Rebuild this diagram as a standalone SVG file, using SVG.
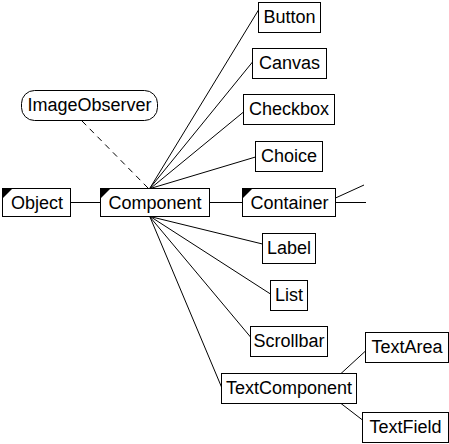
<svg xmlns="http://www.w3.org/2000/svg" width="449" height="444" viewBox="0 0 449 444">
<style>
rect{fill:#fff;stroke:#000;stroke-width:1}
text{font-family:"Liberation Sans",Arial,sans-serif;font-size:18px;fill:#000;text-anchor:middle}
.c line{stroke:#000;stroke-width:1}
.tri{fill:#000;stroke:none}
</style>
<rect x="0" y="0" width="449" height="444" style="stroke:none;fill:#fff"/>
<g class="c" id="connectors">
<line x1="70.5" y1="202.5" x2="100.5" y2="202.5"/>
<line x1="209.5" y1="202.5" x2="242.5" y2="202.5"/>
<line x1="335.5" y1="202.5" x2="366" y2="202.5"/>
<line x1="335.5" y1="198" x2="364" y2="185"/>
<line x1="82" y1="121" x2="148" y2="188" stroke-dasharray="6 5"/>
<line x1="150" y1="188" x2="258.5" y2="10"/>
<line x1="150" y1="188" x2="252.5" y2="62"/>
<line x1="151" y1="188" x2="243.5" y2="112"/>
<line x1="152" y1="188" x2="255.5" y2="157"/>
<line x1="152" y1="217" x2="262.5" y2="244"/>
<line x1="151" y1="217" x2="270.5" y2="294"/>
<line x1="150" y1="217" x2="250.5" y2="337"/>
<line x1="150" y1="217" x2="221.5" y2="387"/>
<line x1="341" y1="373.5" x2="365.5" y2="351"/>
<line x1="341" y1="403.5" x2="362.5" y2="420"/>
</g>
<g id="ImageObserver"><rect x="21.5" y="90.5" width="136" height="30" rx="13" ry="13"/><text x="89.5" y="111">ImageObserver</text></g>
<g id="Object"><rect x="2.5" y="188.5" width="68" height="28"/><polygon class="tri" points="2.5,188.5 12.5,188.5 2.5,198.5"/><text x="37" y="209">Object</text></g>
<g id="Component"><rect x="100.5" y="188.5" width="109" height="28"/><polygon class="tri" points="100.5,188.5 110.5,188.5 100.5,198.5"/><text x="155" y="209">Component</text></g>
<g id="Container"><rect x="242.5" y="188.5" width="93" height="28"/><polygon class="tri" points="242.5,188.5 252.5,188.5 242.5,198.5"/><text x="289.5" y="209">Container</text></g>
<g id="Button"><rect x="258.5" y="2.5" width="62" height="30"/><text x="289.5" y="23">Button</text></g>
<g id="Canvas"><rect x="252.5" y="48.5" width="74" height="30"/><text x="289.5" y="69">Canvas</text></g>
<g id="Checkbox"><rect x="243.5" y="94.5" width="91" height="30"/><text x="289" y="115">Checkbox</text></g>
<g id="Choice"><rect x="255.5" y="141.5" width="67" height="30"/><text x="289" y="162">Choice</text></g>
<g id="Label"><rect x="262.5" y="233.5" width="53" height="30"/><text x="289" y="254">Label</text></g>
<g id="List"><rect x="270.5" y="280.5" width="37" height="30"/><text x="289" y="301">List</text></g>
<g id="Scrollbar"><rect x="250.5" y="326.5" width="77" height="30"/><text x="289" y="347">Scrollbar</text></g>
<g id="TextComponent"><rect x="221.5" y="373.5" width="135" height="30"/><text x="289" y="394">TextComponent</text></g>
<g id="TextArea"><rect x="365.5" y="332.5" width="83" height="30"/><text x="407" y="353">TextArea</text></g>
<g id="TextField"><rect x="362.5" y="412.5" width="86" height="30"/><text x="405.5" y="433">TextField</text></g>
</svg>
